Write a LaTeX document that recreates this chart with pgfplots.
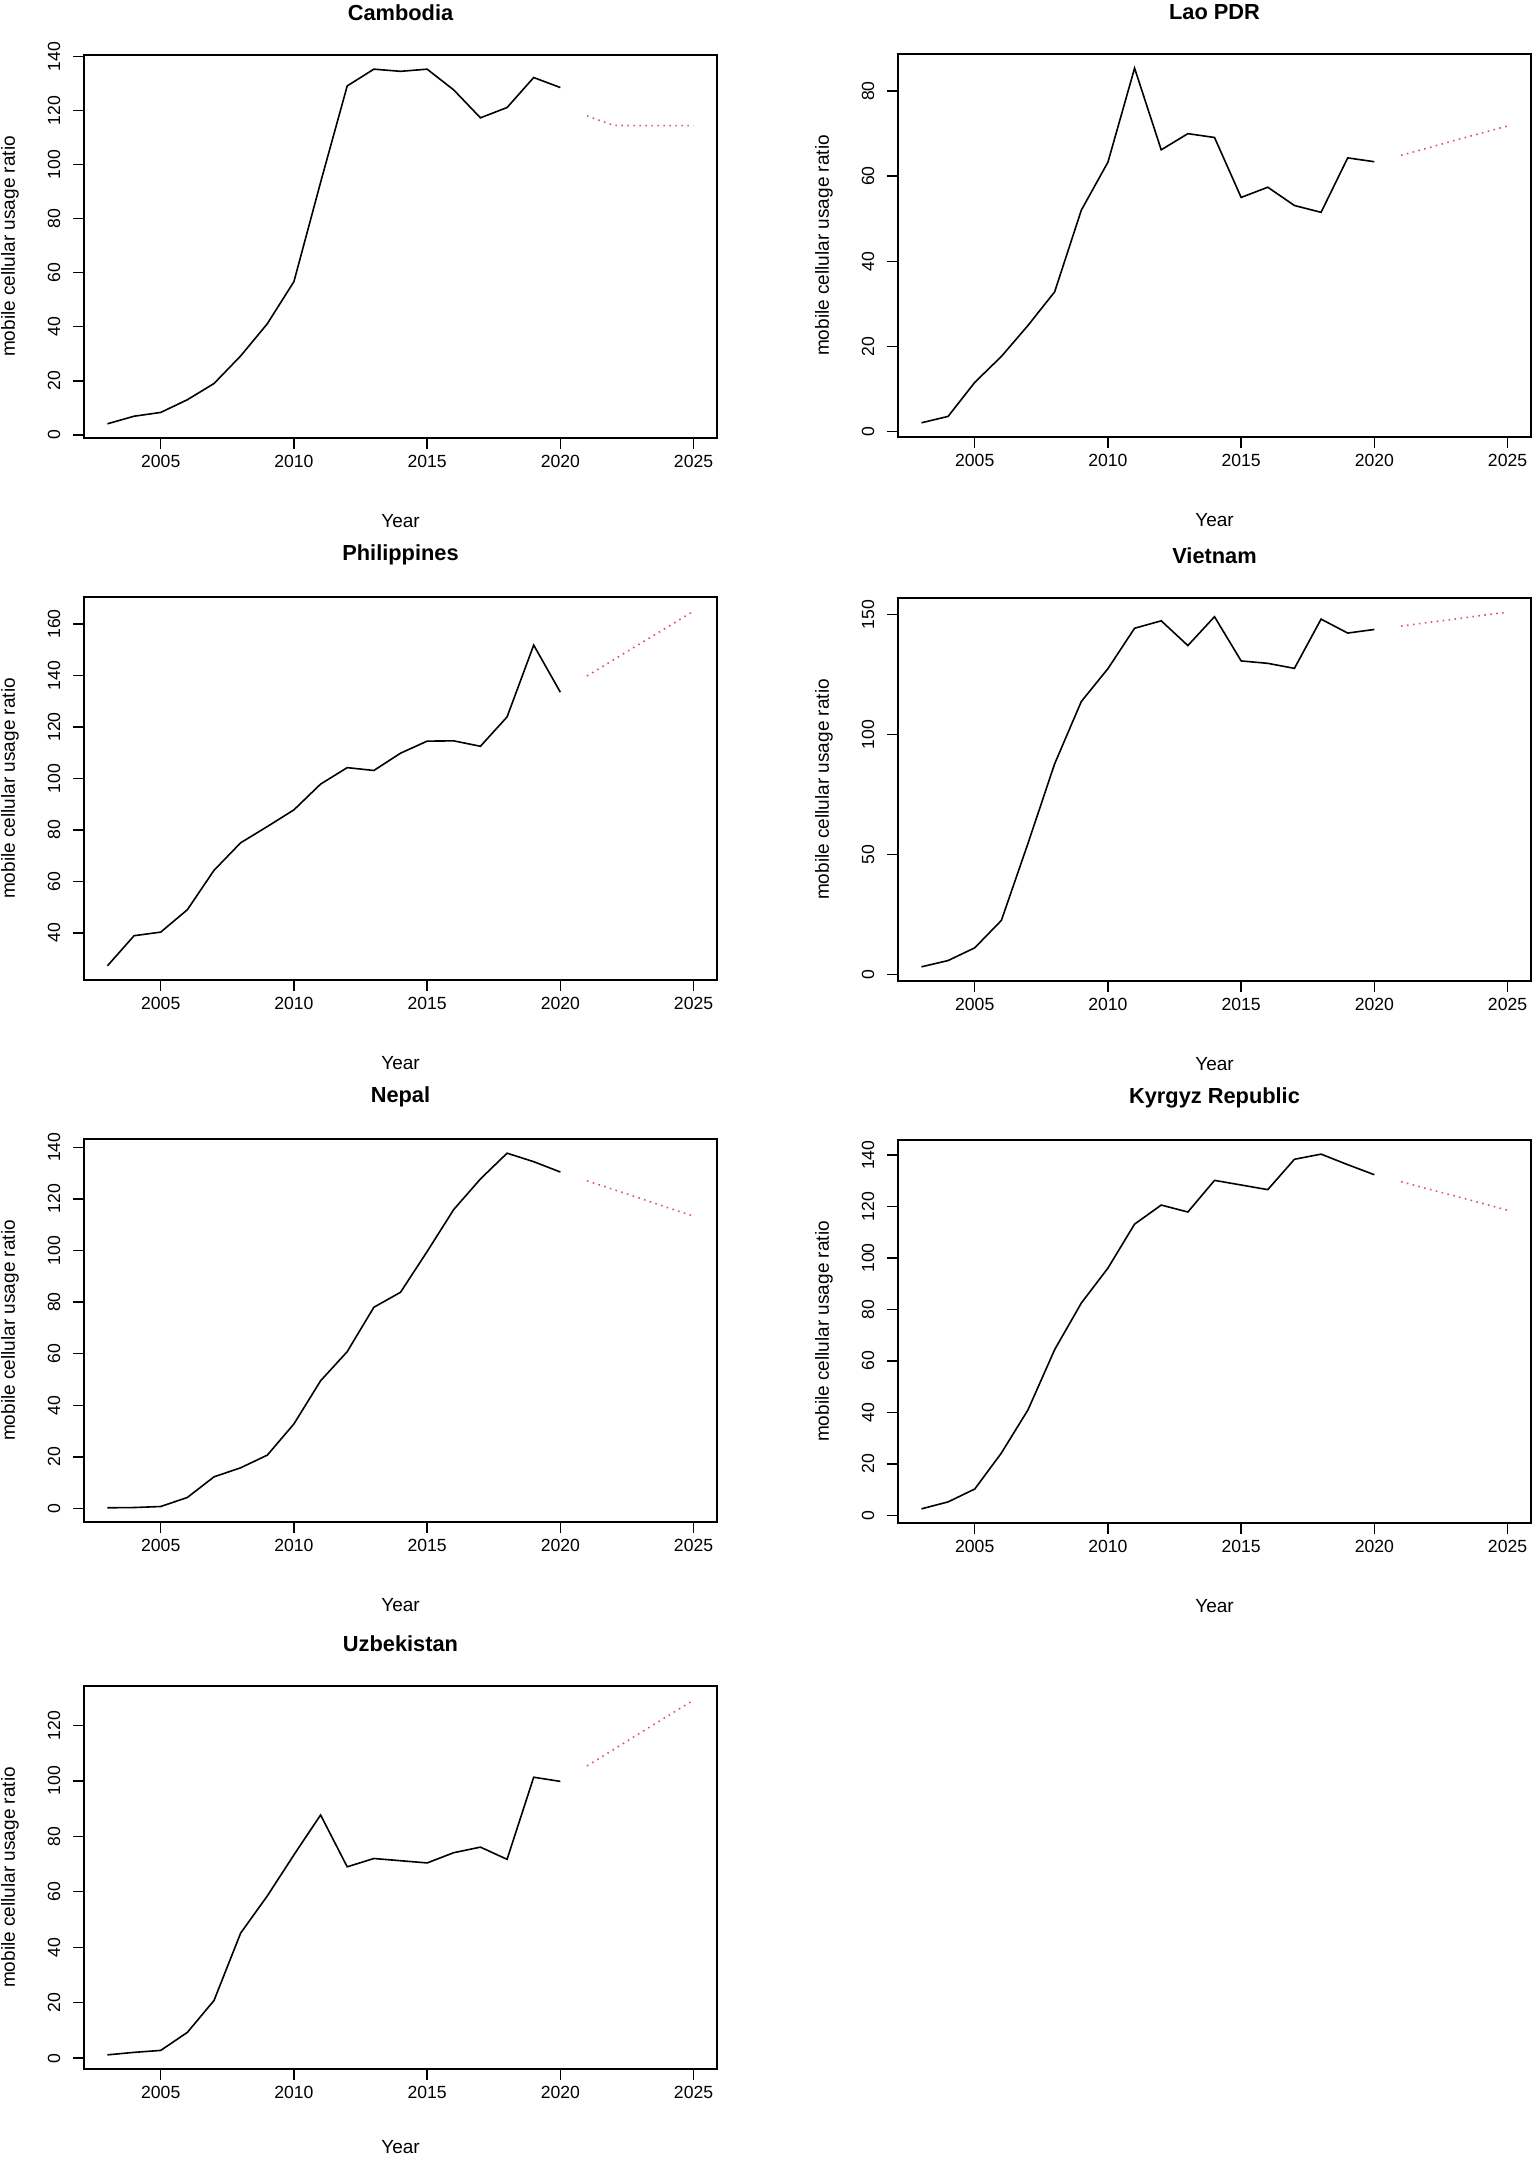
\documentclass[border=0pt]{standalone}
\usepackage{fontspec}
\setmainfont{Liberation Sans}
\usepackage{pgfplots}
\pgfplotsset{compat=1.18}
\definecolor{fc}{HTML}{DF536B}
\pgfplotsset{
  panel/.style={
    scale only axis, width=316.5pt, height=191.5pt, anchor=south west,
    xmin=2002.12, xmax=2025.88, xtick={2005,2010,2015,2020,2025},
    tick pos=left, tick align=outside, major tick length=5.3pt,
    axis line style={line width=0.7pt, black},
    every tick/.style={black, line width=0.7pt},
    /pgf/number format/.cd, 1000 sep={}, assume math mode=true, /pgfplots/.cd,
    ticklabel style={font=\fontsize{8.8}{10}\selectfont},
    yticklabel style={xshift=-3pt, rotate=90, anchor=south},
    xticklabel style={anchor=north},
    xlabel={Year}, ylabel={mobile cellular usage ratio},
    label style={font=\fontsize{9.5}{11}\selectfont},
    xlabel style={at={(axis description cs:0.5,-0.217)}, anchor=center},
    ylabel style={at={(axis description cs:-0.117,0.5)}, anchor=center},
    title style={at={(axis description cs:0.5,1.078)}, anchor=center, font=\fontsize{10.9}{13}\selectfont\bfseries},
    clip=false,
    execute at end axis={\draw[black, line width=1.3pt] (rel axis cs:0,0) -- (rel axis cs:1,0);},
  },
  act/.style={black, line width=0.8pt, no markers},
  fcst/.style={fc, line width=0.8pt, dash pattern=on 0.8pt off 2.2pt, no markers},
}
\begin{document}
\begin{tikzpicture}
\path[use as bounding box] (0,0) rectangle (766.5pt,1079pt);
% Cambodia
\begin{axis}[panel, at={(42pt,860pt)}, title={Cambodia}, ymin=-1.15, ymax=140.55, ytick={0,20,...,140}]
\addplot[act] coordinates {(2003,4.1)(2004,6.9)(2005,8.3)(2006,13.0)(2007,19.0)(2008,29.2)(2009,41.1)(2010,56.7)(2011,93.4)(2012,129.1)(2013,135.3)(2014,134.5)(2015,135.3)(2016,127.6)(2017,117.3)(2018,121.1)(2019,132.2)(2020,128.5)};
\addplot[fcst] coordinates {(2021,118.0)(2022,114.5)(2023,114.4)(2024,114.4)(2025,114.4)};
\end{axis}
% Lao PDR
\begin{axis}[panel, at={(449pt,860.5pt)}, title={Lao PDR}, ymin=-1.34, ymax=88.74, ytick={0,20,...,80}]
\addplot[act] coordinates {(2003,2.0)(2004,3.5)(2005,11.5)(2006,17.6)(2007,24.9)(2008,32.8)(2009,52.0)(2010,63.3)(2011,85.4)(2012,66.2)(2013,70.0)(2014,69.1)(2015,55.0)(2016,57.4)(2017,53.1)(2018,51.5)(2019,64.3)(2020,63.4)};
\addplot[fcst] coordinates {(2021,64.9)(2022,66.6)(2023,68.4)(2024,70.1)(2025,71.8)};
\end{axis}
% Philippines
\begin{axis}[panel, at={(42pt,589pt)}, title={Philippines}, ymin=21.7, ymax=170.5, ytick={40,60,...,160}]
\addplot[act] coordinates {(2003,27.2)(2004,38.9)(2005,40.3)(2006,49.0)(2007,64.3)(2008,75.0)(2009,81.3)(2010,87.8)(2011,97.8)(2012,104.2)(2013,103.1)(2014,109.8)(2015,114.5)(2016,114.6)(2017,112.5)(2018,123.9)(2019,151.8)(2020,133.5)};
\addplot[fcst] coordinates {(2021,139.8)(2022,146.1)(2023,152.4)(2024,158.7)(2025,165.0)};
\end{axis}
% Vietnam
\begin{axis}[panel, at={(449pt,588.5pt)}, title={Vietnam}, ymin=-2.6, ymax=156.8, ytick={0,50,100,150}]
\addplot[act] coordinates {(2003,3.3)(2004,5.9)(2005,11.2)(2006,22.6)(2007,54.7)(2008,87.8)(2009,113.7)(2010,127.4)(2011,144.2)(2012,147.3)(2013,137.0)(2014,149.0)(2015,130.6)(2016,129.6)(2017,127.5)(2018,148.0)(2019,142.2)(2020,143.7)};
\addplot[fcst] coordinates {(2021,145.1)(2022,146.6)(2023,148.0)(2024,149.5)(2025,150.9)};
\end{axis}
% Nepal
\begin{axis}[panel, at={(42pt,318pt)}, title={Nepal}, ymin=-5.2, ymax=143.2, ytick={0,20,...,140}]
\addplot[act] coordinates {(2003,0.3)(2004,0.4)(2005,0.8)(2006,4.3)(2007,12.3)(2008,15.8)(2009,20.7)(2010,32.8)(2011,49.5)(2012,60.8)(2013,78.0)(2014,83.8)(2015,99.6)(2016,115.9)(2017,127.7)(2018,137.7)(2019,134.4)(2020,130.4)};
\addplot[fcst] coordinates {(2021,127.0)(2022,123.6)(2023,120.2)(2024,116.7)(2025,113.3)};
\end{axis}
% Kyrgyz Republic
\begin{axis}[panel, at={(449pt,317.5pt)}, title={Kyrgyz Republic}, ymin=-3.0, ymax=145.9, ytick={0,20,...,140}]
\addplot[act] coordinates {(2003,2.5)(2004,5.2)(2005,10.2)(2006,24.2)(2007,41.0)(2008,64.4)(2009,82.5)(2010,96.1)(2011,113.2)(2012,120.6)(2013,117.9)(2014,130.2)(2015,128.4)(2016,126.6)(2017,138.4)(2018,140.4)(2019,136.3)(2020,132.4)};
\addplot[fcst] coordinates {(2021,129.7)(2022,126.9)(2023,124.2)(2024,121.4)(2025,118.6)};
\end{axis}
% Uzbekistan
\begin{axis}[panel, at={(42pt,44.5pt)}, title={Uzbekistan}, ymin=-3.9, ymax=134.2, ytick={0,20,...,120},
  xlabel style={at={(axis description cs:0.5,-0.205)}}]
\addplot[act] coordinates {(2003,1.2)(2004,2.1)(2005,2.8)(2006,9.3)(2007,20.8)(2008,45.1)(2009,58.5)(2010,73.3)(2011,87.7)(2012,69.0)(2013,72.0)(2014,71.2)(2015,70.4)(2016,74.1)(2017,76.1)(2018,71.7)(2019,101.3)(2020,99.8)};
\addplot[fcst] coordinates {(2021,105.4)(2022,111.3)(2023,117.3)(2024,123.2)(2025,129.1)};
\end{axis}
\end{tikzpicture}
\end{document}
